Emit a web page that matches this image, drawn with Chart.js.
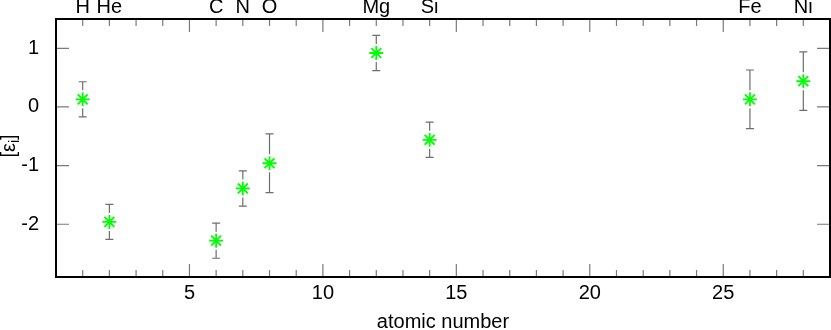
<!DOCTYPE html>
<html>
<head>
<meta charset="utf-8">
<script src="https://cdn.jsdelivr.net/npm/chart.js@4/dist/chart.umd.min.js"></script>
<style>
  body { margin: 0; background: #fff; }
  canvas { display: block; }
</style>
</head>
<body>
<canvas id="abund" width="831" height="330"></canvas>
<script>
// element abundances vs atomic number
const atomicNumbers = [1, 2, 6, 7, 8, 12, 14, 26, 28];
const symbols = ['H', 'He', 'C', 'N', 'O', 'Mg', 'Si', 'Fe', 'Ni'];
const abundances = [0.13, -1.96, -2.28, -1.39, -0.96, 0.92, -0.56, 0.13, 0.44];
const errors = [0.3, 0.3, 0.3, 0.3, 0.5, 0.3, 0.3, 0.5, 0.5];
const xTickValues = [5, 10, 15, 20, 25];
const yTickValues = [-2, -1, 0, 1];

const FAMILY = '"Liberation Sans", Arial, sans-serif';
const TICK_COLOR = '#7a7a7a';

const points = atomicNumbers.map((z, i) => ({x: z, y: abundances[i]}));

// chart.js reserves room for edge labels, we don't want that here
function fixSize(s, w, h) {
  if (w) s.width = w;
  if (h) s.height = h;
  s.paddingTop = s.paddingBottom = s.paddingLeft = s.paddingRight = 0;
}

// error bars, with a gap round the marker
const errorBars = {
  id: 'errorBars',
  beforeDatasetsDraw(chart) {
    const {ctx, scales: {x, y}} = chart;
    const gap = 9, cap = 4;
    ctx.save();
    ctx.strokeStyle = '#6e6e6e';
    ctx.lineWidth = 1.2;
    atomicNumbers.forEach((z, i) => {
      const px = x.getPixelForValue(z);
      const py = y.getPixelForValue(abundances[i]);
      const top = y.getPixelForValue(abundances[i] + errors[i]);
      const bot = y.getPixelForValue(abundances[i] - errors[i]);
      ctx.beginPath();
      ctx.moveTo(px, top); ctx.lineTo(px, py - gap);
      ctx.moveTo(px, py + gap); ctx.lineTo(px, bot);
      ctx.moveTo(px - cap, top); ctx.lineTo(px + cap, top);
      ctx.moveTo(px - cap, bot); ctx.lineTo(px + cap, bot);
      ctx.stroke();
    });
    ctx.restore();
  }
};

// frame, inward ticks and the y title
const frame = {
  id: 'frame',
  afterDraw(chart) {
    const {ctx, chartArea: a, scales: {x, y}} = chart;
    ctx.save();
    ctx.strokeStyle = TICK_COLOR;
    ctx.lineWidth = 1.2;
    ctx.beginPath();
    for (let v = Math.ceil(x.min); v <= x.max; v++) {
      const px = x.getPixelForValue(v);
      const len = v % 5 === 0 ? 13 : 7;
      ctx.moveTo(px, a.bottom); ctx.lineTo(px, a.bottom - len);
      ctx.moveTo(px, a.top); ctx.lineTo(px, a.top + len);
    }
    yTickValues.forEach(v => {
      const py = y.getPixelForValue(v);
      ctx.moveTo(a.left, py); ctx.lineTo(a.left + 13, py);
      ctx.moveTo(a.right, py); ctx.lineTo(a.right - 13, py);
    });
    ctx.stroke();

    ctx.strokeStyle = '#000';
    ctx.lineWidth = 2;
    ctx.strokeRect(a.left, a.top, a.right - a.left, a.bottom - a.top);

    // [ε_i] rotated
    ctx.translate(15, 146);
    ctx.rotate(-Math.PI / 2);
    ctx.fillStyle = '#000';
    ctx.textBaseline = 'alphabetic';
    const big = '20px ' + FAMILY, small = '14px ' + FAMILY;
    ctx.font = big;
    const w1 = ctx.measureText('[ε').width, w3 = ctx.measureText(']').width;
    ctx.font = small;
    const w2 = ctx.measureText('i').width;
    let cx = -(w1 + w2 + w3) / 2;
    ctx.font = big; ctx.fillText('[ε', cx, 0); cx += w1;
    ctx.font = small; ctx.fillText('i', cx, 4); cx += w2;
    ctx.font = big; ctx.fillText(']', cx, 0);
    ctx.restore();
  }
};

new Chart(document.getElementById('abund'), {
  type: 'scatter',
  data: {
    datasets: [{
      label: 'abundance',
      data: points,
      pointStyle: 'star',
      pointRadius: 7,
      pointBorderWidth: 1.8,
      borderColor: '#00ff00',
      backgroundColor: '#00ff00'
    }]
  },
  options: {
    responsive: false,
    animation: false,
    layout: {padding: {right: 1}, autoPadding: false},
    plugins: {legend: {display: false}, tooltip: {enabled: false}},
    scales: {
      x: {
        type: 'linear', position: 'bottom', min: 0, max: 29,
        grid: {display: false, drawTicks: false},
        border: {display: false},
        afterBuildTicks: s => { s.ticks = xTickValues.map(v => ({value: v})); },
        afterFit: s => fixSize(s, 0, 53),
        ticks: {color: '#000', padding: 4, maxRotation: 0, font: {family: FAMILY, size: 20}},
        title: {display: true, text: 'atomic number', color: '#000', padding: 0,
                font: {family: FAMILY, size: 20, lineHeight: 0.8}}
      },
      x2: {
        type: 'linear', position: 'top', min: 0, max: 29,
        grid: {display: false, drawTicks: false},
        border: {display: false},
        afterBuildTicks: s => { s.ticks = atomicNumbers.map(v => ({value: v})); },
        afterFit: s => fixSize(s, 0, 19),
        ticks: {color: '#000', padding: 0, maxRotation: 0, autoSkip: false,
                callback: (v, i) => symbols[i], font: {family: FAMILY, size: 20}}
      },
      y: {
        min: -2.9, max: 1.5,
        grid: {display: false, drawTicks: false},
        border: {display: false},
        afterBuildTicks: s => { s.ticks = yTickValues.map(v => ({value: v})); },
        afterFit: s => fixSize(s, 56, 0),
        ticks: {color: '#000', padding: 17, font: {family: FAMILY, size: 20}}
      }
    }
  },
  plugins: [errorBars, frame]
});
</script>
</body>
</html>
